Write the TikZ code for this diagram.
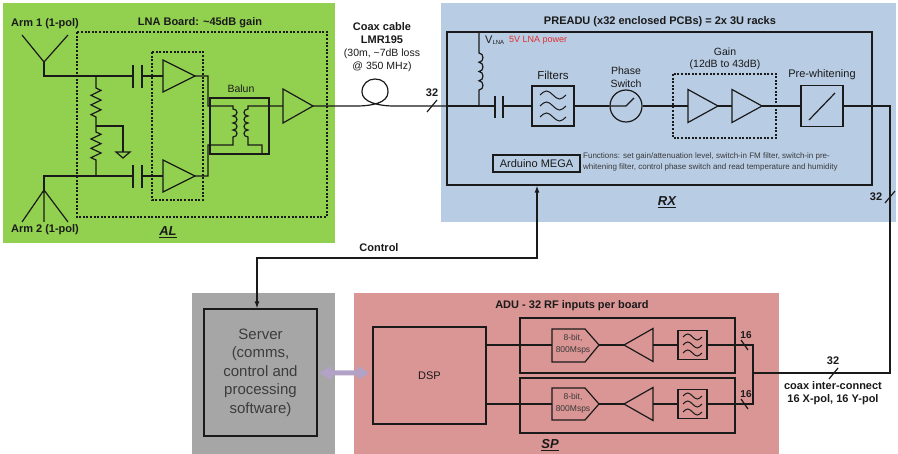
\documentclass[tikz,border=0pt]{standalone}
\usepackage{fontspec}
\setmainfont{Liberation Sans}
\usetikzlibrary{arrows.meta,calc}
\definecolor{algreen}{HTML}{92D050}
\definecolor{rxblue}{HTML}{B8CCE4}
\definecolor{sppink}{HTML}{D99694}
\definecolor{srvgray}{HTML}{A6A6A6}
\definecolor{lav}{HTML}{B3A2C7}
\definecolor{ink}{HTML}{1A1A1A}
\definecolor{txtgray}{HTML}{3A3A3A}
\definecolor{pwred}{HTML}{E0302E}
\newcommand{\fsz}[2]{\fontsize{#1}{#2}\selectfont}
\newcommand{\wavesym}[4]{\draw[wire, line width=1pt] ({#1-#3},#2) sin ({#1-#3/2},{#2-#4}) cos (#1,#2) sin ({#1+#3/2},{#2+#4}) cos ({#1+#3},#2);}
\newcommand{\ampR}[4]{\draw[wire, line join=miter] (#1,{#2-#3}) -- ({#1+#4},#2) -- (#1,{#2+#3}) -- cycle;}
\newcommand{\ampL}[4]{\draw[wire, line join=miter] (#1,{#2-#3}) -- ({#1-#4},#2) -- (#1,{#2+#3}) -- cycle;}
\tikzset{
  wire/.style={draw=ink, line width=1.2pt},
  boxn/.style={draw=ink, line width=1.2pt, inner sep=0pt},
  dashbox/.style={draw=ink, line width=1.1pt, dash pattern=on 2pt off 1.6pt},
  blab/.style={font=\fsz{11}{13}\bfseries, text=ink, inner sep=0pt},
  rlab/.style={font=\fsz{10.5}{13}, text=ink, inner sep=0pt},
  ulab/.style={font=\fsz{13}{15}\bfseries\itshape, text=ink, inner sep=0pt},
  arr/.style={{Latex[length=7pt,width=5pt]}-{Latex[length=7pt,width=5pt]}},
}
\begin{document}
\begin{tikzpicture}[x=1pt,y=-1pt]
\useasboundingbox (0,0) rectangle (898,454);
\fill[white] (0,0) rectangle (898,454);
% backgrounds
\fill[algreen] (3,3) rectangle (335,243);
\fill[rxblue] (441,3) rectangle (896,222);
\fill[srvgray] (192,293) rectangle (335,454);
\fill[sppink] (354,293) rectangle (779,454);

% ================= AL =================
\node[blab] (lnat) at (200,23) {LNA Board: \textasciitilde45dB gain};
\draw[dashbox] (77,32) rectangle (327,217);
\draw[dashbox] (152,52) rectangle (203,200);
% antenna 1
\coordinate (a1) at (44,62);
\draw[wire] (22,35) -- (a1) -- (68,35);
\node[blab] (arm1) at (45,24) {Arm 1 (1-pol)};
\coordinate (c1l) at (133,76); \coordinate (c1r) at (142,76);
\draw[wire] (a1) |- (c1l);
\draw[wire] (133,65) -- (133,88) (142,65) -- (142,88);
\coordinate (amp1in) at (163,76); \coordinate (amp1out) at (195,76);
\draw[wire] (c1r) -- (amp1in);
\ampR{163}{76}{16}{32}
% antenna 2
\coordinate (a2) at (44,190);
\coordinate (c2l) at (133,176); \coordinate (c2r) at (142,176);
\draw[wire] (a2) |- (c2l);
\draw[wire] (a2) -- (22,222) (a2) -- (44,222) (a2) -- (68,222);
\node[blab] (arm2) at (45,230) {Arm 2 (1-pol)};
\draw[wire] (133,165) -- (133,188) (142,165) -- (142,188);
\coordinate (amp2in) at (163,176); \coordinate (amp2out) at (195,176);
\draw[wire] (c2r) -- (amp2in);
\ampR{163}{176}{16}{32}
% resistors and ground
\coordinate (rtop) at (96,76); \coordinate (rmid) at (96,126); \coordinate (rbot) at (96,176);
\draw[wire, line join=miter] (rtop) -- (96,88) -- (101,90.4) -- (91,95.3) -- (101,100.1) -- (91,104.9) -- (101,109.8) -- (91,114.6) -- (96,117) -- (rmid)
  -- (96,132) -- (101,134.3) -- (91,139) -- (101,143.7) -- (91,148.3) -- (101,153) -- (91,157.7) -- (96,160) -- (rbot);
\coordinate (gnd) at (123,152);
\draw[wire] (rmid) -| (gnd);
\draw[wire, line join=miter] (116,152) -- (130,152) -- (123,158) -- cycle;
% balun
\node[boxn, minimum width=59, minimum height=56] (balun) at (239.5,126) {};
\node[rlab] at (241,89) {Balun};
\draw[wire] (amp1out) -- (208,76) -- (208,106) -- (233,106) -- (233,109)
  .. controls (238.3,109) and (238.3,116) .. (233,116)
  .. controls (238.3,116) and (238.3,123) .. (233,123)
  .. controls (238.3,123) and (238.3,130) .. (233,130)
  .. controls (238.3,130) and (238.3,137) .. (233,137)
  -- (233,145) -- (208,145) -- (208,176) -- (amp2out);
\coordinate (amp3in) at (283,106); \coordinate (amp3out) at (313,106);
\draw[wire] (amp3in) -- (248,106) -- (248,109)
  .. controls (242.7,109) and (242.7,116) .. (248,116)
  .. controls (242.7,116) and (242.7,123) .. (248,123)
  .. controls (242.7,123) and (242.7,130) .. (248,130)
  .. controls (242.7,130) and (242.7,137) .. (248,137)
  -- (248,145) -- (262,145) -- (262,154);
\ampR{283}{106}{17}{30}
\node[ulab] (allab) at (168,232) {\underline{AL}};

% ================= coax =================
\coordinate (rxin) at (447,106);
\draw[wire] (amp3out) -- (356,106) .. controls (372,106) and (388,103) .. (388,92)
  .. controls (388,83) and (382,79) .. (375,79)
  .. controls (368,79) and (362,84) .. (362,92)
  .. controls (362,102) and (378,106) .. (394,106) -- (rxin);
\node[blab] at (382,27) {Coax cable};
\node[blab] at (382,40) {LMR195};
\node[rlab] at (382,54) {(30m, \textasciitilde7dB loss};
\node[rlab] at (382,67) {@ 350 MHz)};
\node[blab] at (432,93) {32};
\draw[wire] (427,112) -- (437,100);

% ================= RX =================
\node[blab] at (660,22) {PREADU (x32 enclosed PCBs) = 2x 3U racks};
\node[boxn, minimum width=425, minimum height=153] (rxbox) at (659.5,108.5) {};
% inductor
\draw[wire] (479,32) -- (479,53)
  .. controls (484.3,53) and (484.3,62.25) .. (479,62.25)
  .. controls (484.3,62.25) and (484.3,71.5) .. (479,71.5)
  .. controls (484.3,71.5) and (484.3,80.75) .. (479,80.75)
  .. controls (484.3,80.75) and (484.3,90) .. (479,90)
  -- (479,106);
\node[anchor=west, rlab, font=\fsz{11}{13}] at (485,40) {V\raisebox{-1pt}{\fsz{6}{7}LNA}};
\node[anchor=west, font=\fsz{9}{11}, text=pwred, inner sep=0pt] at (509,40) {5V LNA power};
% capacitor
\draw[wire] (rxin) -- (495,106);
\draw[wire] (495,96) -- (495,118) (503,96) -- (503,118);
% filters
\node[boxn, minimum width=42, minimum height=40] (filt) at (553,106) {};
\draw[wire] (503,106) -- (filt.west);
\wavesym{553}{95}{13}{4}
\wavesym{553}{106}{13}{4}
\wavesym{553}{117}{13}{4}
\node[font=\fsz{11.5}{13}, text=ink, inner sep=0pt] at (553,75) {Filters};
% phase switch
\node[draw=ink, line width=1.2pt, circle, minimum size=32, inner sep=0pt] (psw) at (626,106) {};
\draw[wire] (filt.east) -- (psw.west);
\draw[wire] (psw.west) -- (psw.center) -- (634,98);
\node[rlab] at (626,71) {Phase};
\node[rlab] at (626,84) {Switch};
% gain
\draw[dashbox] (673,74) rectangle (776,138);
\node[rlab] at (725,52) {Gain};
\node[rlab] at (725,65) {(12dB to 43dB)};
\coordinate (gAin) at (688,106); \coordinate (gAout) at (718,106);
\coordinate (gBin) at (732,106); \coordinate (gBout) at (762,106);
\draw[wire] (psw.east) -- (gAin);
\ampR{688}{106}{16.5}{30}
\draw[wire] (gAout) -- (gBin);
\ampR{732}{106}{16.5}{30}
% pre-whitening
\node[boxn, minimum width=42, minimum height=41] (pw) at (822,106) {};
\draw[wire] (gBout) -- (pw.west);
\draw[wire] (809,120) -- (835,93);
\node[rlab, font=\fsz{11}{13}] at (822,75) {Pre-whitening};
% arduino
\node[boxn, minimum width=87, minimum height=17, font=\fsz{11}{13}, text=ink] (ard) at (536.5,163.5) {Arduino MEGA};
\node[anchor=north west, align=left, font=\fsz{8}{11.5}, text=txtgray, inner sep=0pt] at (583,152.5) {Functions: set gain/attenuation level, switch-in FM filter, switch-in pre-\\whitening filter, control phase switch and read temperature and humidity};
\node[ulab] (rxlab) at (667,202) {\underline{RX}};
% output to SP
\coordinate (turn) at (890,373);
\coordinate (comb) at (753,373);
\draw[wire] (pw.east) -| (turn) -- (comb);
\node[blab] at (876,197) {32};
\draw[wire] (885,203) -- (895,191);

% ================= server / control =================
\node[draw=ink, line width=1.2pt, fill=srvgray, minimum width=113, minimum height=127, align=center, font=\fsz{15}{18.5}, text=ink!85] (srv) at (260.5,372.5) {Server\\(comms,\\control and\\processing\\software)};
\coordinate (ctl) at (537,258);
\coordinate (ctl2) at (257,258);
\draw[wire, arr] (rxbox.south -| ctl) -- (ctl) -- (ctl2) -- (ctl2 |- srv.north);
\node[blab] at (379,248) {Control};

% ================= SP =================
\node[blab] at (572,306) {ADU - 32 RF inputs per board};
\node[boxn, minimum width=113, minimum height=97, font=\fsz{11}{13}, text=ink] (dsp) at (429.5,375.5) {DSP};
\coordinate (pl) at ($(srv.east |- 0,373)+(2,0)$);
\coordinate (pr) at ($(dsp.west |- 0,373)+(-3,0)$);
\fill[lav] (pl) -- ++(12,-7) -- ++(0,4.5) -- ($(pr)+(-12,-2.5)$) -- ++(0,-4.5) -- (pr) -- ++(-12,7) -- ++(0,-4.5) -- ($(pl)+(12,2.5)$) -- ++(0,4.5) -- cycle;
\node[boxn, minimum width=215, minimum height=55] (ch1) at (627.5,345.5) {};
\node[boxn, minimum width=215, minimum height=55] (ch2) at (627.5,405.5) {};
% channel 1
\coordinate (adc1in) at (552,345); \coordinate (adc1out) at (599,345);
\draw[wire, line join=miter] (552,329) -- (585,329) -- (adc1out) -- (585,362) -- (552,362) -- cycle;
\node[font=\fsz{8.5}{12}, text=txtgray, align=center, inner sep=0pt] at (573,344) {8-bit,\\800Msps};
\draw[wire] (dsp.east |- adc1in) -- (adc1in);
\coordinate (sa1tip) at (624,345); \coordinate (sa1base) at (653,345);
\draw[wire] (adc1out) -- (sa1tip);
\ampL{653}{345}{16.5}{29}
\node[boxn, minimum width=29, minimum height=29] (f1) at (692.5,345) {};
\draw[wire] (sa1base) -- (f1.west);
\wavesym{692.5}{337}{9.5}{3}
\wavesym{692.5}{345}{9.5}{3}
\wavesym{692.5}{353}{9.5}{3}
% channel 2
\coordinate (adc2in) at (552,404); \coordinate (adc2out) at (599,404);
\draw[wire, line join=miter] (552,388) -- (585,388) -- (adc2out) -- (585,420) -- (552,420) -- cycle;
\node[font=\fsz{8.5}{12}, text=txtgray, align=center, inner sep=0pt] at (573,403) {8-bit,\\800Msps};
\draw[wire] (dsp.east |- adc2in) -- (adc2in);
\coordinate (sa2tip) at (624,404); \coordinate (sa2base) at (653,404);
\draw[wire] (adc2out) -- (sa2tip);
\ampL{653}{404}{16.5}{29}
\node[boxn, minimum width=29, minimum height=29] (f2) at (692.5,404) {};
\draw[wire] (sa2base) -- (f2.west);
\wavesym{692.5}{396}{9.5}{3}
\wavesym{692.5}{404}{9.5}{3}
\wavesym{692.5}{412}{9.5}{3}
% combiner
\draw[wire] (f1.east) -| (comb) |- (f2.east);
\draw[wire] (741,340) -- (748,350);
\draw[wire] (741,399) -- (748,409);
\node[blab, font=\fsz{10}{12}\bfseries] at (746,335) {16};
\node[blab, font=\fsz{10}{12}\bfseries] at (746,394) {16};
\node[blab] at (833,361) {32};
\draw[wire] (829,379) -- (838,368);
\node[blab] at (833,386) {coax inter-connect};
\node[blab] at (833,400) {16 X-pol, 16 Y-pol};
\node[ulab] (splab) at (550,445) {\underline{SP}};
\end{tikzpicture}
\end{document}
